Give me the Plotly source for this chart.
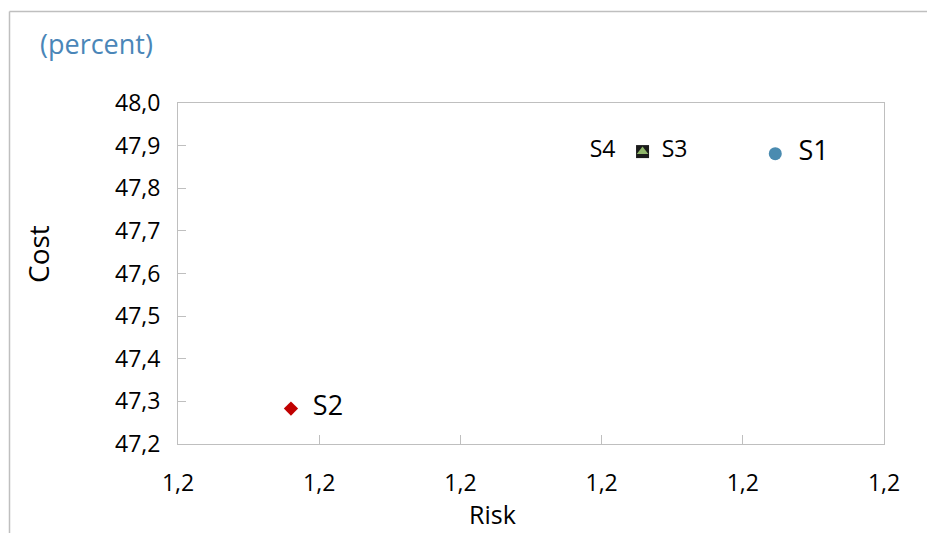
import plotly.graph_objects as go

# Scenario positions: risk (x) vs cost (y)
scenarios = ["S1", "S2", "S3", "S4"]
risk = [1.2223, 1.1880, 1.2129, 1.2129]
cost = [47.881, 47.283, 47.886, 47.886]

x_range = [1.18, 1.23]
y_range = [47.2, 48.0]

FONT = "Open Sans"
grey = "#bfbfbf"

styles = {
    "S1": dict(symbol="circle", color="#4a8bb0", size=13, pos="middle right",
               fs=27, text="  S1"),
    "S2": dict(symbol="diamond", color="#c00000", size=11, pos="middle right",
               fs=27, text="  S2"),
    "S4": dict(symbol="square", color="#1a1a1a", size=13, pos="middle left",
               fs=23, text="S4   "),
    "S3": dict(symbol="triangle-up", color="#8fb56a", size=10, pos="middle right",
               fs=23, text="  S3"),
}

fig = go.Figure()
for name in ["S1", "S2", "S4", "S3"]:
    i = scenarios.index(name)
    st = styles[name]
    fig.add_trace(go.Scatter(
        x=[risk[i]], y=[cost[i]], mode="markers+text",
        text=[st["text"]], textposition=st["pos"],
        textfont=dict(family=FONT, size=st["fs"], color="#000000"),
        marker=dict(symbol=st["symbol"], color=st["color"], size=st["size"],
                    line=dict(width=0)),
        showlegend=False, name=name, cliponaxis=False,
    ))

L, R, T, B = 178, 43, 103, 89
W, H = 927, 533
pw, ph = W - L - R, H - T - B

def px(xp):
    return (xp - L) / pw

def py(yp):
    return (H - B - yp) / ph

fig.update_layout(
    width=W, height=H,
    margin=dict(l=L, r=R, t=T, b=B),
    paper_bgcolor="white", plot_bgcolor="white",
    separators=",.",
    font=dict(family=FONT, size=23, color="#000000"),
    xaxis=dict(
        range=x_range, dtick=0.01, tick0=1.18, tickformat=".1f",
        showgrid=False, zeroline=False,
        showline=True, linecolor=grey, linewidth=1, mirror=True,
        ticks="inside", ticklen=9, tickcolor=grey,
        tickfont=dict(family=FONT, size=23),
        ticklabelstandoff=18,
    ),
    yaxis=dict(
        range=y_range, dtick=0.1, tickformat=".1f",
        showgrid=False, zeroline=False,
        showline=True, linecolor=grey, linewidth=1, mirror=True,
        ticks="inside", ticklen=8, tickcolor=grey,
        tickfont=dict(family=FONT, size=23),
        ticklabelstandoff=12,
    ),
    annotations=[
        dict(text="(percent)", xref="paper", yref="paper",
             x=px(38), y=py(44), xanchor="left", yanchor="middle",
             showarrow=False, font=dict(family=FONT, size=27, color="#4a86b8")),
        dict(text="Cost", xref="paper", yref="paper",
             x=px(38), y=py(254), xanchor="center", yanchor="middle",
             textangle=-90, showarrow=False,
             font=dict(family=FONT, size=28, color="#000000")),
        dict(text="Risk", xref="paper", yref="paper",
             x=px(492), y=py(514), xanchor="center", yanchor="middle",
             showarrow=False, font=dict(family=FONT, size=25, color="#000000")),
    ],
    shapes=[
        dict(type="line", xref="paper", yref="paper",
             x0=px(9.5), x1=px(9.5), y0=py(11.5), y1=py(545),
             line=dict(color=grey, width=1.5)),
        dict(type="line", xref="paper", yref="paper",
             x0=px(9.5), x1=px(940), y0=py(11.5), y1=py(11.5),
             line=dict(color=grey, width=1.5)),
    ],
)

fig.write_html("out.html")
